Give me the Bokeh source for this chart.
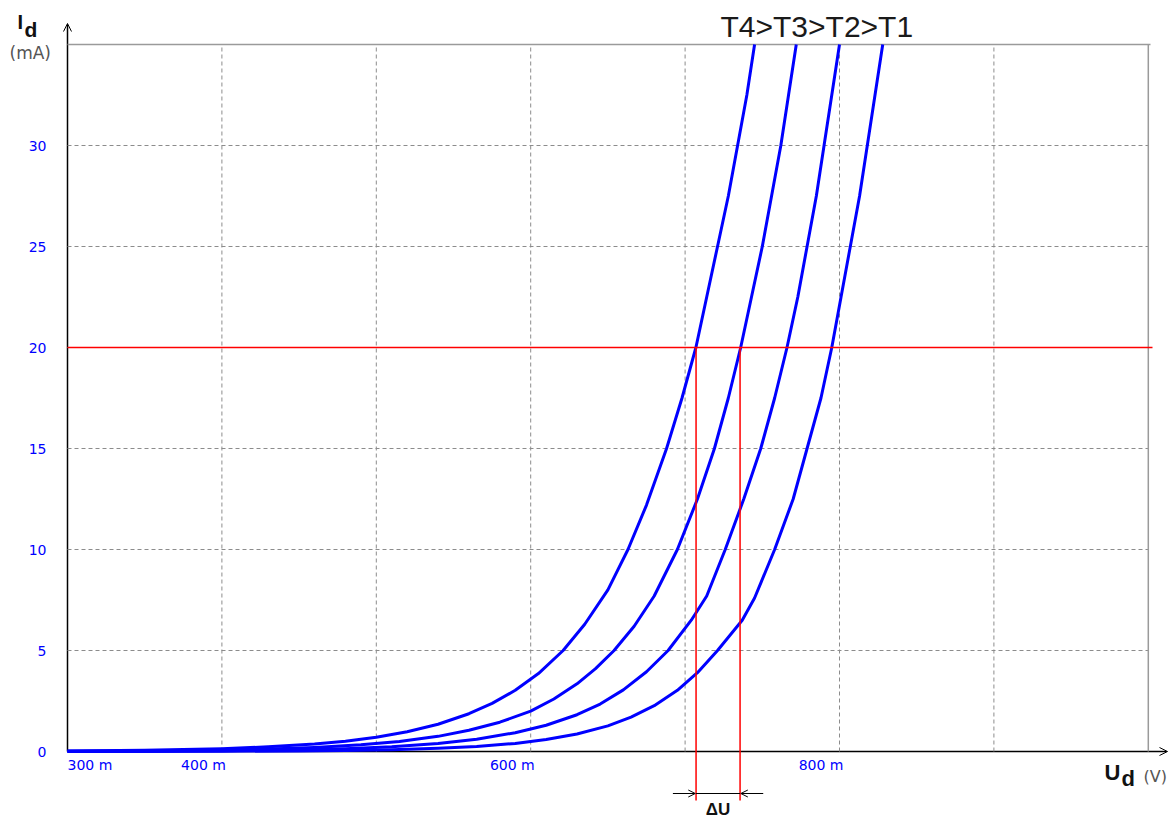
from bokeh.plotting import figure
from bokeh.models import Range1d, FixedTicker, Label, Arrow, OpenHead
from bokeh.core.properties import value
from bokeh.embed import file_html
from bokeh.resources import INLINE

# ---- data (U in mV, I in mA) ----
t4_u = [300, 350, 400, 430, 460, 480, 500, 520, 540, 560, 575, 590, 605, 621, 635, 650, 663, 675, 688, 698, 707, 714, 721, 728, 734, 740, 745]
t4_i = [0.03, 0.06, 0.14, 0.23, 0.37, 0.51, 0.71, 0.98, 1.35, 1.87, 2.38, 3.03, 3.86, 5.0, 6.3, 8.0, 10, 12.2, 15, 17.5, 20, 22.5, 25, 27.5, 30, 32.5, 35]
t3_u = [300, 350, 400, 430, 460, 490, 515, 540, 560, 580, 600, 615, 630, 642, 654, 667, 680, 695, 708, 719, 728, 736, 743, 750, 756, 762, 767, 772]
t3_i = [0.015, 0.03, 0.07, 0.12, 0.2, 0.33, 0.5, 0.75, 1.05, 1.45, 2.0, 2.6, 3.35, 4.1, 5.0, 6.2, 7.7, 10, 12.5, 15, 17.5, 20, 22.5, 25, 27.5, 30, 32.5, 35]
t2_u = [300, 350, 400, 440, 480, 510, 540, 565, 590, 610, 630, 645, 660, 675, 689, 704, 714, 726, 738, 749, 758, 766, 773, 779, 785, 790, 795, 800]
t2_i = [0.007, 0.016, 0.04, 0.07, 0.14, 0.24, 0.4, 0.61, 0.93, 1.3, 1.82, 2.35, 3.05, 3.95, 5.0, 6.5, 7.7, 10, 12.5, 15, 17.5, 20, 22.5, 25, 27.5, 30, 32.5, 35]
t1_u = [300, 400, 450, 480, 510, 540, 565, 590, 610, 630, 650, 665, 680, 695, 708, 721, 737, 745, 758, 770, 779, 788, 795, 801, 807, 813, 818, 823, 828]
t1_i = [0.002, 0.01, 0.03, 0.05, 0.09, 0.16, 0.25, 0.4, 0.59, 0.87, 1.27, 1.7, 2.27, 3.03, 3.9, 5.0, 6.5, 7.6, 10, 12.5, 15, 17.5, 20, 22.5, 25, 27.5, 30, 32.5, 35]

x_grid = [400, 500, 600, 700, 800, 900]
y_grid = [5, 10, 15, 20, 25, 30]
y_ticks = [0, 5, 10, 15, 20, 25, 30]
x_tick_first = [300]
x_tick_first_label = ["300 m"]
x_ticks = [400, 600, 800]
x_tick_labels = ["400 m", "600 m", "800 m"]
u_min, u_max = 300, 1000
i_min, i_max = 0, 35
i_ref = 20
du_left, du_right = 707.1, 735.6   # T4 and T3 at 20 mA
title_text = "T4>T3>T2>T1"

# pixel helpers (reference picture coordinates -> data)
def vx(px):
    return 300 + (px - 67) / 1.544

def vy(py):
    return (751 - py) / 20.2

W, H = 1174, 818
p = figure(width=W, height=H, x_range=Range1d(vx(0), vx(W)), y_range=Range1d(vy(H), vy(0)),
           output_backend="svg", toolbar_location=None, min_border=0,
           background_fill_color="white", border_fill_color="white")
p.outline_line_color = None
p.grid.visible = False
p.xaxis.visible = False

yax = p.yaxis[0]
yax.fixed_location = u_min
yax.ticker = FixedTicker(ticks=y_ticks)
yax.axis_line_color = None
yax.major_tick_line_color = None
yax.minor_tick_line_color = None
yax.major_tick_out = 0
yax.major_tick_in = 0
yax.major_label_standoff = 21
yax.major_label_text_color = "#0000ff"
yax.major_label_text_font = "DejaVu Sans"
yax.major_label_text_font_size = "14px"

# grid
grid_col = "#8c8c8c"
p.segment(x0=x_grid, y0=[i_min] * len(x_grid), x1=x_grid, y1=[i_max] * len(x_grid),
          line_color=grid_col, line_width=1, line_dash="4 3")
p.segment(x0=[u_min] * len(y_grid), y0=y_grid, x1=[u_max] * len(y_grid), y1=y_grid,
          line_color=grid_col, line_width=1, line_dash="4 3")
# frame top / right
p.segment(x0=[u_min, u_max], y0=[i_max, i_min], x1=[vx(1150), u_max], y1=[i_max, i_max],
          line_color="#9a9a9a", line_width=1.5)

# axes lines with arrows
ax_y = Arrow(x_start=u_min, y_start=i_min, x_end=u_min, y_end=vy(23), line_color="black", line_width=1.5,
             end=OpenHead(size=8, line_width=1, line_color="black"), level="underlay")
ax_x = Arrow(x_start=u_min, y_start=i_min, x_end=vx(1167), y_end=i_min, line_color="black", line_width=1.5,
             end=OpenHead(size=8, line_width=1, line_color="black"), level="underlay")
p.add_layout(ax_y)
p.add_layout(ax_x)

# curves
for u, i in [(t4_u, t4_i), (t3_u, t3_i), (t2_u, t2_i), (t1_u, t1_i)]:
    p.line(u, i, line_color="#0000ff", line_width=3, line_join="round")

# red reference lines
p.segment(x0=[u_min], y0=[i_ref], x1=[vx(1152)], y1=[i_ref], line_color="#ff0000", line_width=1.5)
p.segment(x0=[du_left, du_right], y0=[i_ref, i_ref], x1=[du_left, du_right], y1=[vy(800), vy(800)],
          line_color="#ff0000", line_width=1.5)

# delta U marker
y_du = vy(793)
p.add_layout(Arrow(x_start=du_left - 15, y_start=y_du, x_end=du_left - 0.5, y_end=y_du, line_color="black",
                   line_width=1.2, end=OpenHead(size=7, line_width=1, line_color="black")))
p.add_layout(Arrow(x_start=du_right + 15, y_start=y_du, x_end=du_right + 0.5, y_end=y_du, line_color="black",
                   line_width=1.2, end=OpenHead(size=7, line_width=1, line_color="black")))
p.add_layout(Arrow(x_start=du_left, y_start=y_du, x_end=du_right, y_end=y_du, line_color="black",
                   line_width=1.2, end=None))
p.add_layout(Label(x=(du_left + du_right) / 2, y=vy(799), text="ΔU", text_align="center", text_baseline="top",
                   text_font="Liberation Sans", text_font_size="17px", text_font_style="bold", text_color="#111111"))

# x tick labels
p.text(x=x_tick_first, y=[i_min] * len(x_tick_first), text=x_tick_first_label, text_align="left",
       text_baseline="top", y_offset=5, text_color="#0000ff", text_font=value("DejaVu Sans"), text_font_size="14px")
p.text(x=x_ticks, y=[i_min] * len(x_ticks), text=x_tick_labels, text_align="right",
       text_baseline="top", x_offset=4, y_offset=5, text_color="#0000ff", text_font=value("DejaVu Sans"),
       text_font_size="14px")

# axis titles
def lab(px, py, txt, size, bold=True, font="Liberation Sans", color="#111111"):
    p.add_layout(Label(x=vx(px), y=vy(py), text=txt, text_baseline="alphabetic", text_font=font,
                       text_font_size=size, text_font_style="bold" if bold else "normal", text_color=color))

lab(17, 21, "I", "20px")
lab(24, 29, "d", "21px")
lab(9, 52, "(mA)", "17px", bold=False, font="DejaVu Sans", color="#555555")
lab(1104, 772, "U", "22px")
lab(1121, 778, "d", "22px")
lab(1143, 776, "(V)", "16px", bold=False, font="DejaVu Sans", color="#555555")
lab(720, 26, title_text, "30px", bold=False, color="#1a1a1a")

open("out.html", "w").write(file_html(p, INLINE))
